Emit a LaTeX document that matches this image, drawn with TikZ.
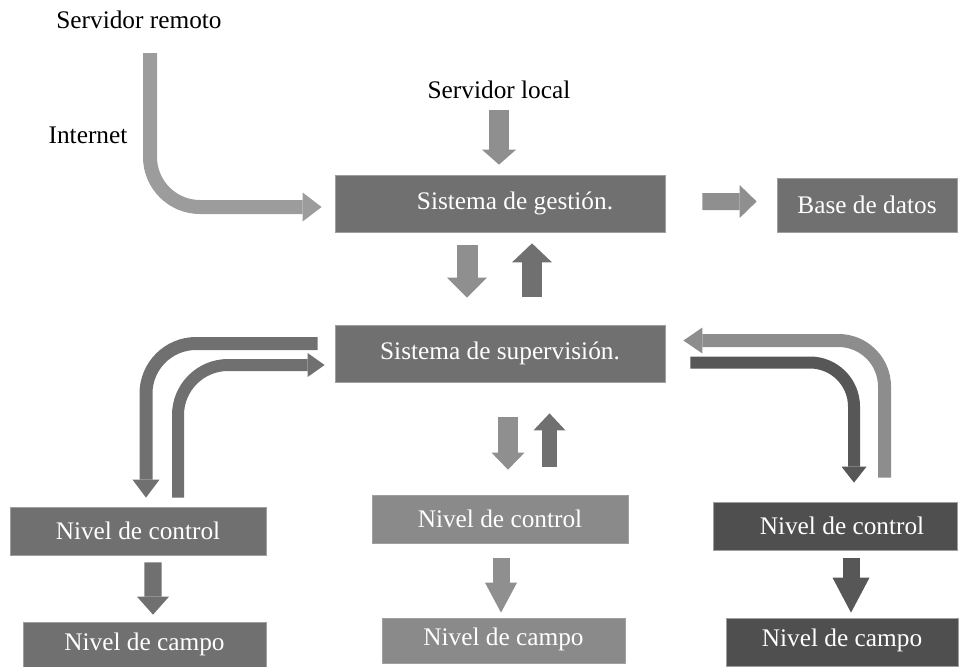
\documentclass[tikz,border=0pt]{standalone}
\usepackage{fontspec}
\setmainfont{Liberation Serif}
\usetikzlibrary{arrows.meta, calc}

\definecolor{boxMid}{gray}{0.44}
\definecolor{boxLight}{gray}{0.54}
\definecolor{boxDark}{gray}{0.31}
\definecolor{arrPale}{gray}{0.61}
\definecolor{arrLight}{gray}{0.56}
\definecolor{arrMid}{gray}{0.44}
\definecolor{arrDark}{gray}{0.34}

\tikzset{
  block/.style={fill=#1, draw=gray!75, line width=0.5pt, text=white, inner sep=0pt,
    font=\fontsize{18}{21}\selectfont},
  txt/.style={inner sep=0pt, font=\fontsize{18}{21}\selectfont},
  fat/.style n args={4}{draw=#4, line width=#1,
    -{Triangle[length=#3, width=#2, line width=0pt]}}
}

\begin{document}
\begin{tikzpicture}[x=0.025cm, y=-0.025cm]
\useasboundingbox (0,0) rectangle (959,666);
\clip (0,0) rectangle (959,666);

%% texts on white
\node[txt] (remoto) at (139,20) {Servidor remoto};
\node[txt] (internet) at (88,135) {Internet};
\node[txt] (local) at (499,90) {Servidor local};
\coordinate (inet) at (150,53);

%% upper boxes
\node[block=boxMid, minimum width=8.25cm, minimum height=1.425cm] at (500,203.5) (gestion) {\hspace*{0.75cm}Sistema de gestión.};
\node[block=boxMid, minimum width=4.5cm, minimum height=1.35cm] at (867,205) (base) {Base de datos};
\node[block=boxMid, minimum width=8.25cm, minimum height=1.425cm] at (500,353.5) (superv) {Sistema de supervisión.};

%% lower boxes
\node[block=boxMid, minimum width=6.4cm, minimum height=1.2cm] at (138,531) (ctrlL) {Nivel de control};
\node[block=boxMid, minimum width=6.075cm, minimum height=1.15cm, text height=1.1em] at (144.5,645) (campoL) {Nivel de campo};
\node[block=boxLight, minimum width=6.4cm, minimum height=1.2cm] at (500,519) (ctrlM) {Nivel de control};
\node[block=boxLight, minimum width=6.075cm, minimum height=1.125cm, text height=1.1em] at (503.5,640.5) (campoM) {Nivel de campo};
\node[block=boxDark, minimum width=6.1cm, minimum height=1.2cm] at (835,526) (ctrlR) {\hspace*{0.35cm}Nivel de control};
\node[block=boxDark, minimum width=5.8cm, minimum height=1.2cm, text height=1em] at (842,642) (campoR) {Nivel de campo};

%% Internet and local server
\draw[fat={0.35cm}{0.725cm}{0.475cm}{arrPale}, rounded corners=1.25cm, shorten >=0.325cm]
      (inet) |- ($(gestion.west)+(0,3.5)$);
\draw[fat={0.5cm}{0.85cm}{0.375cm}{arrLight}, shorten <=0.275cm, shorten >=0.25cm]
      (local.south) -- (local.south |- gestion.north);

%% gestion <-> supervision, gestion -> base
\draw[fat={0.525cm}{1cm}{0.5cm}{arrLight}, shorten <=0.325cm, shorten >=0.675cm]
      ($(gestion.south)+(-33,0)$) -- ($(superv.north)+(-33,0)$);
\draw[fat={0.5cm}{1cm}{0.475cm}{arrMid}, shorten <=0.7cm, shorten >=0.275cm]
      ($(superv.north)+(32,0)$) -- ($(gestion.south)+(32,0)$);
\draw[fat={0.425cm}{0.825cm}{0.425cm}{arrLight}, shorten <=0.925cm, shorten >=0.5cm]
      ($(gestion.east)+(0,-2)$) -- ($(base.west)+(0,-3.5)$);

%% supervision <-> middle control
\draw[fat={0.5cm}{0.825cm}{0.425cm}{arrLight}, shorten <=0.875cm, shorten >=0.625cm]
      ($(superv.south)+(8,0)$) -- ($(ctrlM.north)+(8,0)$);
\draw[fat={0.375cm}{0.8cm}{0.425cm}{arrMid}, shorten <=0.7cm, shorten >=0.775cm]
      ($(ctrlM.north)+(49.5,0)$) -- ($(superv.south)+(49.5,0)$);

%% supervision <-> left control
\draw[fat={0.325cm}{0.675cm}{0.45cm}{arrMid}, rounded corners=1.25cm, shorten <=0.425cm, shorten >=0.225cm]
      ($(superv.west)+(0,-10)$) -| ($(ctrlL.north)+(8,0)$);
\draw[fat={0.3cm}{0.6cm}{0.425cm}{arrMid}, rounded corners=1.25cm, shorten <=0.225cm, shorten >=0.25cm]
      ($(ctrlL.north)+(40,0)$) |- ($(superv.west)+(0,11.5)$);

%% supervision <-> right control
\draw[fat={0.325cm}{0.65cm}{0.475cm}{arrMid!80!white}, rounded corners=1.15cm, shorten <=0.6cm, shorten >=0.45cm]
      ($(ctrlR.north)+(49.5,0)$) |- ($(superv.east)+(0,-13)$);
\draw[fat={0.3cm}{0.625cm}{0.4cm}{arrDark}, rounded corners=1.1cm, shorten <=0.625cm, shorten >=0.475cm]
      ($(superv.east)+(0,9)$) -| ($(ctrlR.north)+(19,0)$);

%% control -> field
\draw[fat={0.425cm}{0.8cm}{0.45cm}{arrMid}, shorten <=0.175cm, shorten >=0.175cm]
      ($(ctrlL.south)+(15,0)$) -- ($(campoL.north)+(8.5,0)$);
\draw[fat={0.425cm}{0.8cm}{0.75cm}{arrLight}, shorten <=0.375cm, shorten >=0.125cm]
      ($(ctrlM.south)+(1,0)$) -- ($(campoM.north)+(-2.5,0)$);
\draw[fat={0.425cm}{0.925cm}{0.875cm}{arrDark}, shorten <=0.2cm, shorten >=0.125cm]
      ($(ctrlR.south)+(16,0)$) -- ($(campoR.north)+(9,0)$);

\end{tikzpicture}
\end{document}
